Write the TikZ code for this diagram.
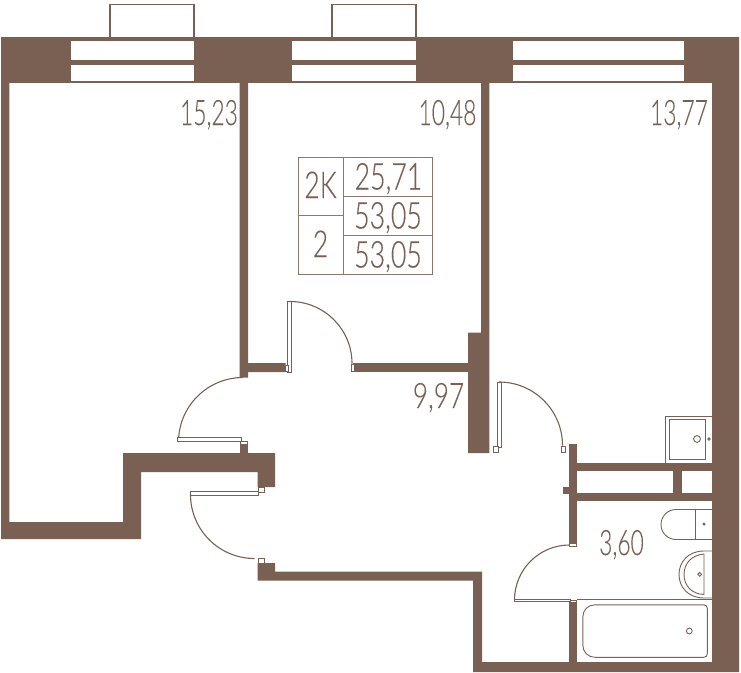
\documentclass[tikz,border=0pt]{standalone}
\usepackage{fontspec}
\newfontfamily\planfont[FakeStretch=0.65,FakeBold=0.15]{Lato Light}
\newfontfamily\tabfont[FakeStretch=0.72,FakeBold=0.25]{Lato Light}
\newfontfamily\narrowfont[FakeStretch=0.75,FakeBold=0.15]{Lato Light}
\definecolor{wallc}{HTML}{7A6053}
\tikzset{
  wall/.style={fill=wallc,draw=none},
  thin/.style={draw=wallc,line width=0.9pt,fill=none},
  fine/.style={draw=wallc,line width=1.2pt,fill=none},
  leaf/.style={draw=wallc,line width=0.9pt,fill=white},
  swing/.style={draw=wallc,line width=1.1pt,fill=none},
  grid/.style={draw=wallc!85!white,line width=1pt,fill=none},
  area/.style={text=wallc,font=\planfont\fontsize{35}{35}\selectfont,anchor=base,inner sep=0pt,outer sep=0pt},
  areawide/.style={text=wallc,font=\narrowfont\fontsize{35}{35}\selectfont,anchor=base,inner sep=0pt,outer sep=0pt},
  tabtext/.style={text=wallc,font=\tabfont\fontsize{37}{37}\selectfont,anchor=base,inner sep=0pt,outer sep=0pt}
}
\begin{document}
\begin{tikzpicture}[x=1pt,y=-1pt]
\useasboundingbox (0,0) rectangle (741,672);
% balcony bumps
\draw[fine] (110,37) -- (110,4.5) -- (194,4.5) -- (194,37);
\draw[fine] (332,37) -- (332,4.5) -- (416,4.5) -- (416,37);
% piers
\fill[wall] (1,37) rectangle (71,83);
\fill[wall] (194,37) rectangle (292,83);
\fill[wall] (416,37) rectangle (513,83);
\fill[wall] (684,37) rectangle (739,83);
% window bars
\fill[wall] (71,37) rectangle (684,41);
\fill[wall] (71,59.5) rectangle (684,64.5);
\fill[wall] (71,80.5) rectangle (684,83);
% left outer wall and notch
\fill[wall] (1,83) -- (9.3,83) -- (9.3,522) -- (123,522) -- (123,453) -- (275,453) -- (275,487) -- (257.5,487) -- (257.5,472) -- (141,472) -- (141,539) -- (1,539) -- cycle;
\fill[wall] (239.5,444) rectangle (248,453);
% interior walls
\fill[wall] (239.5,83) -- (248,83) -- (248,363) -- (285.5,363) -- (285.5,372) -- (248,372) -- (248,377.5) -- (239.5,377.5) -- cycle;
\fill[wall] (353,363) rectangle (468,372);
\fill[wall] (481,83) -- (489.3,83) -- (489.3,453) -- (468,453) -- (468,332.5) -- (481,332.5) -- cycle;
% lower hall wall
\fill[wall] (257.5,563) -- (275,563) -- (275,571.5) -- (482,571.5) -- (482,662) -- (712,662) -- (712,37) -- (739,37) -- (739,672) -- (473,672) -- (473,580.5) -- (257.5,580.5) -- cycle;
% bathroom walls
\fill[wall] (569,444) rectangle (577.3,543);
\fill[wall] (569,602) rectangle (577.3,662);
\fill[wall] (577,462.7) rectangle (712,471);
\fill[wall] (577,492.7) rectangle (712,501);
\fill[wall] (673,471) rectangle (681.7,492.7);
\fill[wall] (562.7,486.7) rectangle (569,494);
% door 1
\draw[leaf] (287.5,301.5) rectangle (291.5,372);
\draw[leaf] (285.5,365) rectangle (288.5,371.5);
\draw[leaf] (351,364.5) rectangle (354,371);
\draw[swing] (290,301.5) arc[start angle=-90,end angle=0,radius=62];
% door 2
\draw[swing] (243,377.5) arc[start angle=-90,end angle=-180,radius=64.5];
\draw[leaf] (177.5,437.5) rectangle (241.5,441.5);
\draw[leaf] (240.5,441) rectangle (247,444.5);
% door 3
\draw[leaf] (190.5,491) rectangle (258,495);
\draw[leaf] (258,487) rectangle (264,492);
\draw[swing] (190.5,494.5) arc[start angle=180,end angle=90,radius=64] ;
\draw[leaf] (258,558) rectangle (264,563);
% door 4
\draw[leaf] (497.5,382) rectangle (501,447);
\draw[leaf] (493.5,446) rectangle (498,452);
\draw[swing] (499,382) arc[start angle=-90,end angle=0,radius=63.5];
\draw[leaf] (561,446) rectangle (565.5,452);
% door 5
\draw[swing] (569.5,545) arc[start angle=-90,end angle=-180,radius=55];
\draw[leaf] (514.5,599) rectangle (570,601.5);
\draw[leaf] (569.5,543) rectangle (576.5,546);
\draw[leaf] (570.5,600.5) rectangle (576.5,602.5);
% kitchen appliance
\draw[thin] (665.5,463) -- (665.5,416) -- (712,416);
\draw[thin] (669.5,419.5) rectangle (705,459);
\draw[thin] (697,439) circle (3.4);
\draw[thin] (709,439) circle (1.2);
% toilet
\draw[thin] (712,509.5) -- (676,509.5) arc[start angle=-90,end angle=-270,radius=15] -- (712,539.5);
\draw[thin] (695.7,509.5) -- (695.7,539.5);
\draw[thin] (704,524) circle (1.1);
% basin
\draw[thin] (712,551) -- (704,551) .. controls (688,551) and (679,562) .. (679,574.5) .. controls (679,587) and (688,598) .. (704,598) -- (712,598);
\draw[thin] (704,554) -- (704,594.5) .. controls (692,594) and (684,586) .. (684,574.5) .. controls (684,563) and (692,555) .. (704,554) -- cycle;
\draw[thin] (699.7,574.3) circle (1.9);
% bath
\draw[thin] (577,599.3) -- (712,599.3);
\draw[thin] (595,604.8) -- (703.5,604.8) .. controls (706,604.8) and (707.3,606) .. (707.3,608.5) -- (707.3,653.5) .. controls (707.3,656) and (706,657.3) .. (703.5,657.3) -- (595,657.3) .. controls (588,657.3) and (582.8,652) .. (582.8,645) -- (582.8,617) .. controls (582.8,610) and (588,604.8) .. (595,604.8) -- cycle;
\draw[thin] (689.3,631) circle (2.9);
% info table
\draw[grid] (298.5,157) rectangle (432.5,274);
\draw[grid] (343,157) -- (343,274);
\draw[grid] (298.5,215) -- (343,215);
\draw[grid] (343,196) -- (432.5,196);
\draw[grid] (343,235) -- (432.5,235);
% labels
\node[area] (a1) at (209,125) {15,23};
\node[area] (a2) at (447.5,125) {10,48};
\node[area] (a3) at (679,125) {13,77};
\node[areawide] (a4) at (438.5,408) {9,97};
\node[area] (a5) at (621.5,555) {3,60};
\node[tabtext] (t1) at (320.5,198) {2K};
\node[tabtext] (t2) at (320.5,257) {2};
\node[tabtext] (t3) at (388.5,189.5) {25,71};
\node[tabtext] (t4) at (388,228.5) {53,05};
\node[tabtext] (t5) at (388,267.5) {53,05};
\end{tikzpicture}
\end{document}
